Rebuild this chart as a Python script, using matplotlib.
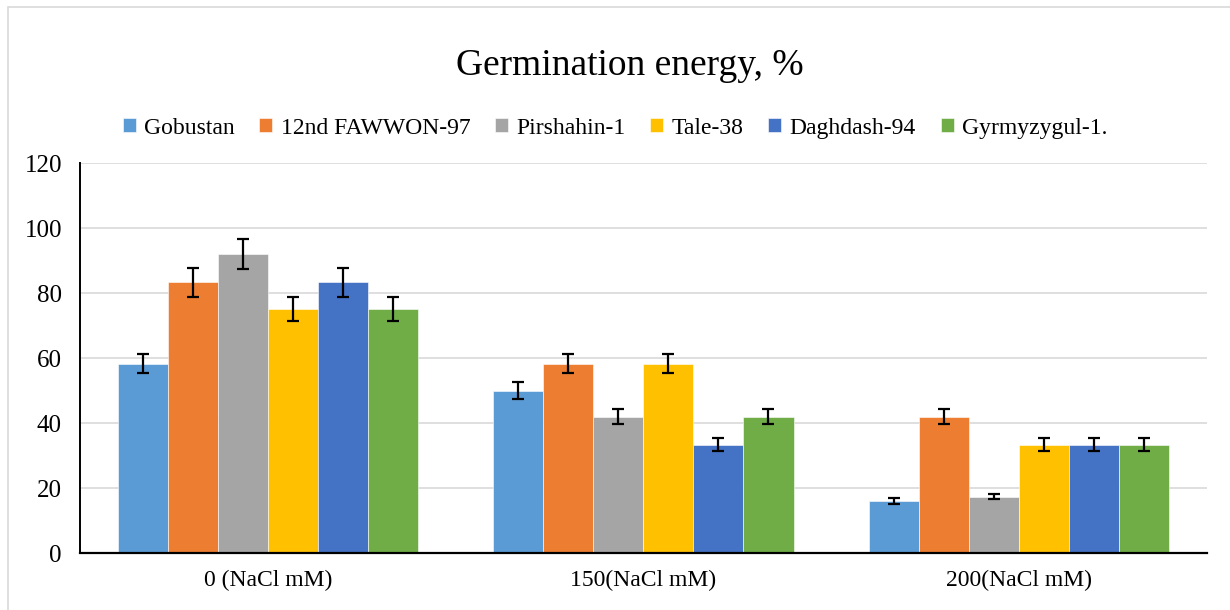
import matplotlib.pyplot as plt
import numpy as np
from matplotlib.patches import Rectangle

categories = ["0 (NaCl mM)", "150(NaCl mM)", "200(NaCl mM)"]
varieties = ["Gobustan", "12nd FAWWON-97", "Pirshahin-1", "Tale-38", "Daghdash-94", "Gyrmyzygul-1."]
colors = ["#5B9BD5", "#ED7D31", "#A5A5A5", "#FFC000", "#4472C4", "#70AD47"]

# values per variety, one entry per NaCl level
gobustan = [58.3, 50.0, 16.0]
fawwon = [83.3, 58.3, 42.0]
pirshahin = [92.0, 42.0, 17.3]
tale = [75.0, 58.3, 33.3]
daghdash = [83.3, 33.3, 33.3]
gyrmyzygul = [75.0, 42.0, 33.3]

gobustan_err = [2.8, 2.5, 1.0]
fawwon_err = [4.4, 2.8, 2.3]
pirshahin_err = [4.5, 2.3, 0.8]
tale_err = [3.7, 2.8, 2.0]
daghdash_err = [4.4, 2.0, 2.0]
gyrmyzygul_err = [3.7, 2.3, 2.0]

values = [gobustan, fawwon, pirshahin, tale, daghdash, gyrmyzygul]
errors = [gobustan_err, fawwon_err, pirshahin_err, tale_err, daghdash_err, gyrmyzygul_err]

plt.rcParams['font.family'] = ['Liberation Serif', 'DejaVu Serif']

fig = plt.figure(figsize=(12.3, 6.1), dpi=100)
ax = fig.add_axes([0.065, 0.0934, 0.916, 0.6393])

x = np.arange(len(categories))
width = 1 / 7.5
for i in range(len(varieties)):
    offset = (i - 2.5) * width
    ax.bar(x + offset, values[i], width, color=colors[i], label=varieties[i],
           edgecolor='white', linewidth=0.4, zorder=2)
    ax.errorbar(x + offset, values[i], yerr=errors[i], fmt='none', ecolor='black',
                elinewidth=1.6, capsize=4, capthick=1.6, zorder=3)

ax.set_xlim(-0.5, 2.5)
ax.set_ylim(0, 120)
ax.set_yticks(np.arange(0, 121, 20))
ax.set_xticks(x)
ax.set_xticklabels(categories)
ax.tick_params(axis='both', length=0)
ax.tick_params(axis='x', labelsize=17, pad=12)
ax.tick_params(axis='y', labelsize=18, pad=13)
ax.grid(axis='y', color='#d9d9d9', linewidth=1.2, zorder=0)
ax.set_axisbelow(True)
for s in ['top', 'right']:
    ax.spines[s].set_visible(False)
ax.spines['left'].set_linewidth(1.4)
ax.spines['bottom'].set_linewidth(1.6)

fig.text(0.512, 0.893, "Germination energy, %", ha='center', va='center', fontsize=27)
fig.legend(loc='center', bbox_to_anchor=(0.5, 0.79), ncol=6, frameon=False, fontsize=17,
           handlelength=0.55, handleheight=0.55, handletextpad=0.35, columnspacing=1.05)

fig.patches.append(Rectangle((8 / 1230, -0.1), 1.2, 1 - 7 / 610 + 0.1, transform=fig.transFigure,
                             fill=False, edgecolor='#d9d9d9', linewidth=1.2))

fig.savefig("out.png", dpi=100)
